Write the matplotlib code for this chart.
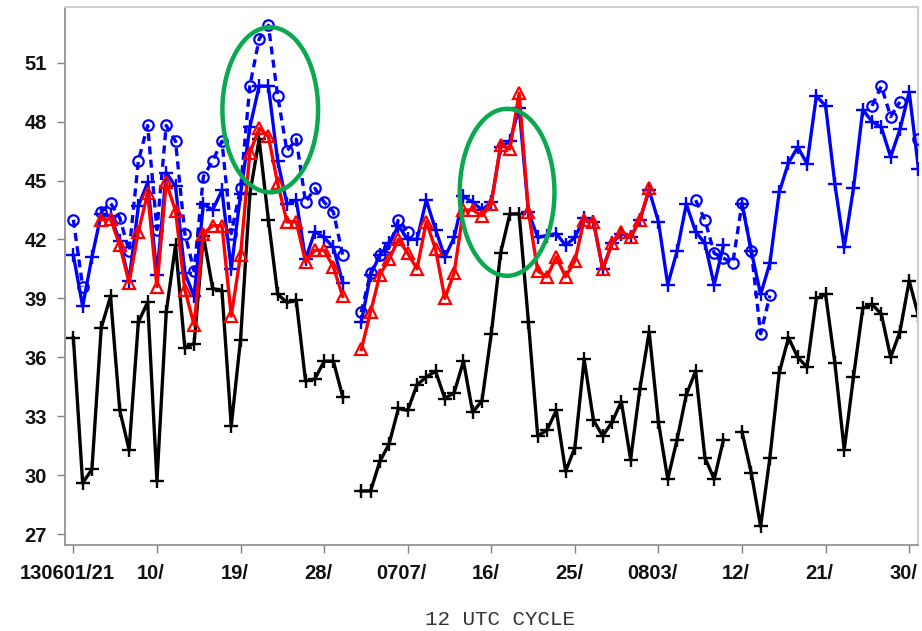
import matplotlib
matplotlib.use("Agg")
import matplotlib.pyplot as plt
import matplotlib.transforms as mtransforms
from matplotlib.patches import Ellipse
import numpy as np

nan = None

# daily 12 UTC cycle values, 2013-06-01 .. 2013-08-31 (92 days)
obs = [37.0, 29.6, 30.3, 37.5, 39.1, 33.3, 31.3, 37.8, 38.8, 29.7,
       38.3, 41.7, 36.5, 36.7, 42.2, 39.5, 39.4, 32.5, 36.9, 44.3,
       47.1, 43.0, 39.2, 38.8, 38.9, 34.8, 34.9, 35.8, 35.8, 34.0,
       nan, 29.2, 29.2, 30.7, 31.6, 33.4, 33.3, 34.6, 35.0, 35.3,
       33.9, 34.2, 35.8, 33.2, 33.8, 37.2, 41.3, 43.3, 43.3, 37.8,
       32.0, 32.3, 33.3, 30.2, 31.4, 35.9, 32.8, 32.0, 32.7, 33.75,
       30.8, 34.4, 37.3, 32.7, 29.8, 31.8, 34.1, 35.3, 30.9, 29.8,
       31.8, nan, 32.2, 30.1, 27.4, 30.9, 35.2, 37.0, 36.0, 35.5,
       39.0, 39.2, 35.7, 31.3, 35.0, 38.5, 38.7, 38.2, 36.0, 37.3,
       39.9, 38.1]

exp_a = [41.2, 38.6, 41.1, 43.3, 43.2, 41.9, 39.9, 43.7, 44.9, 40.2,
         45.4, 44.7, 40.3, 39.1, 43.8, 43.5, 44.5, 40.5, 44.3, 47.7,
         49.8, 49.8, 46.0, 43.8, 44.0, 41.0, 42.4, 42.1, 41.6, 39.8,
         nan, 37.8, 40.2, 41.2, 41.8, 42.7, 42.0, 42.0, 44.0, 42.5,
         41.1, 42.1, 44.2, 43.9, 43.5, 43.9, 46.7, 47.0, 48.7, 43.4,
         42.1, 42.2, 42.3, 41.7, 42.1, 43.1, 42.9, 40.5, 41.8, 42.3,
         42.1, 43.0, 44.5, 42.9, 39.7, 41.4, 43.8, 42.4, 41.8, 39.7,
         41.7, nan, 43.8, 41.4, 39.2, 40.8, 44.4, 45.9, 46.7, 45.85,
         49.3, 48.8, 44.8, 41.6, 44.6, 48.6, 48.0, 47.7, 46.2, 47.6,
         49.5, 45.6]

exp_b = [43.0, 39.6, nan, 43.4, 43.85, 43.1, 41.4, 46.0, 47.8, 42.5,
         47.8, 47.0, 42.3, 40.4, 45.2, 46.0, 47.0, 42.3, 44.6, 49.8,
         52.2, 52.9, 49.3, 46.5, 47.1, 43.9, 44.6, 43.9, 43.4, 41.2,
         nan, 38.3, 40.3, 41.2, 41.6, 43.0, 42.4, nan, nan, nan,
         nan, nan, nan, nan, nan, nan, nan, nan, nan, nan,
         nan, nan, nan, nan, nan, nan, nan, nan, nan, nan,
         nan, nan, nan, nan, nan, nan, nan, 44.0, 43.0, 41.3,
         41.05, 40.8, 43.85, 41.4, 37.2, 39.15, nan, nan, nan, nan,
         nan, nan, nan, nan, nan, nan, 48.8, 49.8, 48.25, 49.0,
         nan, 47.1]

exp_c = [nan, nan, nan, 43.0, 43.05, 41.7, 39.8, 42.4, 44.35, 39.6,
         44.9, 43.45, 39.45, 37.65, 42.3, 42.7, 42.7, 38.1, 41.2, 46.4,
         47.65, 47.25, 44.85, 42.9, 42.9, 40.85, 41.45, 41.45, 40.6, 39.1,
         nan, 36.4, 38.3, 40.2, 41.0, 42.0, 41.3, 40.5, 42.9, 41.5,
         39.0, 40.3, 43.5, 43.5, 43.2, 43.8, 46.8, 46.6, 49.45, 43.4,
         40.4, 40.1, 41.1, 40.1, 40.9, 43.0, 42.9, 40.5, 41.8, 42.4,
         42.1, 43.0, 44.6] + [nan] * 29

tick_days = [0, 9, 18, 27, 36, 45, 54, 63, 72, 81, 90]
tick_labels = ['130601/21', '10/', '19/', '28/', '0707/', '16/', '25/',
               '0803/', '12/', '21/', '30/']
y_ticks = [27, 30, 33, 36, 39, 42, 45, 48, 51]

# highlighted episodes: (center day, center value, width days, height)
highlights = [(21.2, 48.6, 10.3, 8.4), (46.7, 44.4, 10.2, 8.5)]

days = np.arange(len(obs))
obs = np.array(obs, dtype=float)
exp_a = np.array(exp_a, dtype=float)
exp_b = np.array(exp_b, dtype=float)
exp_c = np.array(exp_c, dtype=float)

plt.rcParams['font.family'] = ['Liberation Sans', 'DejaVu Sans']

fig = plt.figure(figsize=(9.22, 6.31), dpi=100)
ax = fig.add_axes([0.0705, 0.1363, 0.9252, 0.8526])

lw = 2.4
ax.plot(days, obs, color='black', lw=lw, marker='+', ms=10, mew=1.7, zorder=2)
ax.plot(days, exp_b, color='#0000ff', lw=lw, ls=(0, (2.4, 1.6)), marker='o',
        ms=7.5, mfc='none', mew=1.6, zorder=3)
ax.plot(days, exp_a, color='#0000ff', lw=lw, marker='+', ms=10, mew=1.7, zorder=4)
ax.plot(days, exp_c, color='#ff0000', lw=lw, marker='^', ms=8.5, mfc='none',
        mew=1.6, zorder=5)

for cx, cy, w, h in highlights:
    ax.add_patch(Ellipse((cx, cy), w, h, fill=False, ec='#0aa84f', lw=3.2,
                         zorder=6))

ax.set_xlim(-0.9, 90.95)
ax.set_ylim(26.45, 53.83)
ax.set_xticks(tick_days)
ax.set_xticklabels(tick_labels)
ax.set_yticks(y_ticks)
ax.tick_params(axis='both', colors='#808080', labelcolor='#111111',
               labelsize=14.5, width=1, length=6, direction='out')
ax.tick_params(axis='x', pad=8)
ax.tick_params(axis='y', pad=7)
for lab in ax.get_xticklabels() + ax.get_yticklabels():
    lab.set_fontweight('bold')
shift = mtransforms.ScaledTranslation(-6 / 100, 0, fig.dpi_scale_trans)
for lab in ax.get_xticklabels():
    lab.set_transform(lab.get_transform() + shift)

for side in ['left', 'bottom']:
    ax.spines[side].set_color('#8a8a8a')
    ax.spines[side].set_linewidth(1.2)
for side in ['top', 'right']:
    ax.spines[side].set_color('#cfcfcf')
    ax.spines[side].set_linewidth(1.5)

fig.text(0.5418, 0.018, '12 UTC CYCLE', family='Liberation Mono',
         fontsize=15, color='#333333', ha='center', va='center')

fig.savefig('out.png', dpi=100)
